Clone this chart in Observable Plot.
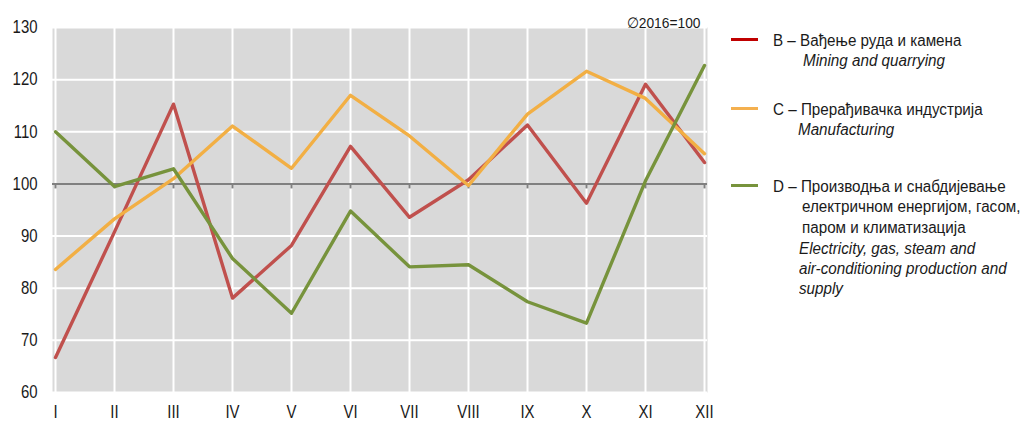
<!DOCTYPE html>
<html>
<head>
<meta charset="utf-8">
<script src="https://cdn.jsdelivr.net/npm/d3@7"></script>
<script src="https://cdn.jsdelivr.net/npm/@observablehq/plot@0.6"></script>
<style>
  html, body { margin: 0; padding: 0; background: #fff; }
  #wrap { position: relative; width: 1024px; height: 423px; font-family: "Liberation Sans", Arial, sans-serif; color: #1a1a1a; }
  .leg { position: absolute; font-size: 16px; line-height: 20.5px; white-space: nowrap; transform: scaleX(0.95); transform-origin: left center; }
  .sw { position: absolute; width: 27px; height: 3px; }
  .it { font-style: italic; }
</style>
</head>
<body>
<div id="wrap"></div>
<script>
const months = ["I","II","III","IV","V","VI","VII","VIII","IX","X","XI","XII"];
const mining = [66.7, 90.8, 115.3, 78.1, 88.2, 107.2, 93.6, 100.8, 111.3, 96.3, 119.1, 104.1];
const manufacturing = [83.6, 93.3, 101.0, 111.1, 103.0, 117.0, 109.2, 99.7, 113.4, 121.6, 116.4, 105.8];
const electricity = [110.0, 99.5, 102.9, 85.7, 75.2, 94.8, 84.1, 84.5, 77.4, 73.3, 100.6, 122.7];
const yTicks = [60, 70, 80, 90, 100, 110, 120, 130];
const baseLabel = "∅2016=100";

const colors = { mining: "#C0504D", manufacturing: "#F2AF44", electricity: "#77933C" };
const rows = (vals) => months.map((m, i) => ({ month: m, value: vals[i] }));

const font = '"Liberation Sans", Arial, sans-serif';

const chart = Plot.plot({
  width: 1024,
  height: 423,
  marginLeft: 52,
  marginRight: 317,
  marginTop: 27,
  marginBottom: 31,
  style: { fontFamily: font, fontSize: "18px", color: "#1a1a1a", background: "transparent" },
  x: { type: "point", domain: months, padding: 0, label: null },
  y: { domain: [60, 130], label: null },
  marks: [
    Plot.frame({ fill: "#D9D9D9", stroke: null }),
    Plot.ruleX(months, { stroke: "white", strokeWidth: 2 }),
    Plot.ruleY(yTicks, { stroke: "white", strokeWidth: 2 }),
    Plot.ruleY([100], { stroke: "#808080", strokeWidth: 2 }),
    Plot.ruleX(months, { x: d => d, y1: 100, y2: 100, insetBottom: -5, stroke: "#808080", strokeWidth: 2 }),
    Plot.line(rows(mining), { x: "month", y: "value", stroke: colors.mining, strokeWidth: 3.4 }),
    Plot.line(rows(manufacturing), { x: "month", y: "value", stroke: colors.manufacturing, strokeWidth: 3.4 }),
    Plot.line(rows(electricity), { x: "month", y: "value", stroke: colors.electricity, strokeWidth: 3.4 }),
    Plot.axisY({ ticks: yTicks, tickSize: 0, tickPadding: 15, fontSize: 18, label: null }),
    Plot.axisX({ tickSize: 0, tickPadding: 13, fontSize: 18, label: null }),
    Plot.text([baseLabel], { frameAnchor: "top-right", dx: -7, dy: -10, textAnchor: "end", fontSize: 15 })
  ]
});

// narrow the SVG texts to imitate the condensed face of the original
d3.select(chart).selectAll("text").each(function () {
  const el = d3.select(this);
  const isBase = el.text() === baseLabel;
  const t = el.attr("transform") || "";
  el.attr("transform", t + (isBase ? " scale(0.92,1)" : " scale(0.83,1)"));
});

const wrap = document.getElementById("wrap");
chart.style.position = "absolute";
chart.style.left = "0px";
chart.style.top = "0px";
wrap.appendChild(chart);

const legend = [
  { color: "#C00000", y: 39, lines: [["B – Вађење руда и камена", 773, 31, false], ["Mining and quarrying", 803, 51, true]] },
  { color: "#F4B04F", y: 108, lines: [["C – Прерађивачка индустрија", 773, 100, false], ["Manufacturing", 798, 120, true]] },
  { color: "#77933C", y: 185, lines: [
    ["D – Производња и снабдијевање", 773, 177, false],
    ["електричном енергијом, гасом,", 802, 197, false],
    ["паром и климатизација", 802, 218, false],
    ["Electricity, gas, steam and", 799, 239, true],
    ["air-conditioning production and", 799, 259, true],
    ["supply", 799, 279, true]
  ] }
];
for (const item of legend) {
  const sw = document.createElement("div");
  sw.className = "sw";
  sw.style.left = "731px";
  sw.style.top = (item.y - 1) + "px";
  sw.style.background = item.color;
  wrap.appendChild(sw);
  for (const [t, x, y, it] of item.lines) {
    const d = document.createElement("div");
    d.className = "leg" + (it ? " it" : "");
    d.style.left = x + "px";
    d.style.top = y + "px";
    d.textContent = t;
    wrap.appendChild(d);
  }
}
</script>
</body>
</html>
